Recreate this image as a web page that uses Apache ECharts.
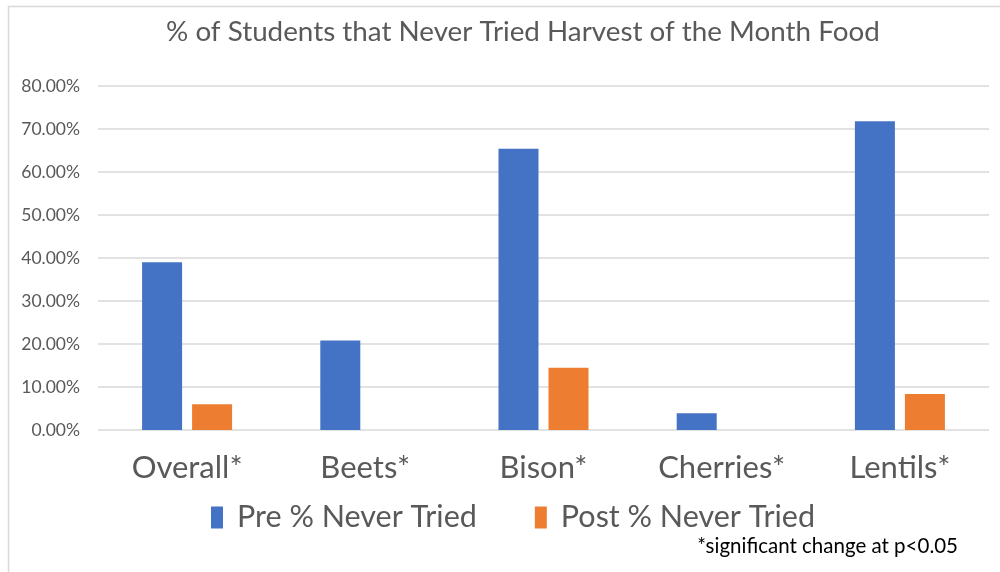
<!DOCTYPE html>
<html>
<head>
<meta charset="utf-8">
<script src="https://cdn.jsdelivr.net/npm/echarts@6/dist/echarts.min.js"></script>
<style>
  html, body { margin: 0; padding: 0; background: #fff; }
  #main { width: 1000px; height: 572px; }
</style>
</head>
<body>
<div id="main"></div>
<script>
var categories = ['Overall*', 'Beets*', 'Bison*', 'Cherries*', 'Lentils*'];
var preNeverTried = [39.0, 20.8, 65.4, 3.9, 71.8];
var postNeverTried = [6.0, 0, 14.5, 0, 8.4];
var seriesNames = ['Pre % Never Tried', 'Post % Never Tried'];

var myChart = echarts.init(document.getElementById('main'));

var font = 'Lato';

var option = {
    backgroundColor: '#ffffff',
    title: {
        text: '% of Students that Never Tried Harvest of the Month Food',
        left: 161,
        top: 13,
        textStyle: {
            fontFamily: font,
            fontSize: 27.8,
            fontWeight: 'normal',
            color: '#595959',
        },
    },
    grid: {
        left: 98,
        right: 11,
        top: 86,
        bottom: 142,
    },
    legend: {
        data: seriesNames,
        left: 206,
        top: 497,
        itemWidth: 12,
        itemHeight: 22,
        itemGap: 58,
        icon: 'rect',
        textStyle: {
            fontFamily: font,
            fontSize: 30.5,
            color: '#595959',
            padding: [0, 0, 0, 9],
        },
    },
    xAxis: {
        type: 'category',
        data: categories,
        axisTick: { show: false },
        axisLine: { show: false },
        axisLabel: {
            fontFamily: font,
            fontSize: 31,
            color: '#595959',
            margin: 22,
        },
    },
    yAxis: {
        type: 'value',
        min: 0,
        max: 80,
        interval: 10,
        axisLine: { show: false },
        axisTick: { show: false },
        axisLabel: {
            fontFamily: font,
            fontSize: 17.5,
            color: '#595959',
            margin: 18,
            formatter: function (v) { return v.toFixed(2) + '%'; },
        },
        splitLine: {
            lineStyle: { color: '#D9D9D9', width: 1.5 },
        },
    },
    series: [{
        name: seriesNames[0],
        type: 'bar',
        barWidth: 40,
        barGap: '25%',
        itemStyle: { color: '#4472C4' },
        data: preNeverTried,
    }, {
        name: seriesNames[1],
        type: 'bar',
        barWidth: 40,
        barGap: '25%',
        itemStyle: { color: '#ED7D31' },
        data: postNeverTried,
    }],
    graphic: [{
        type: 'text',
        right: 42,
        top: 536,
        style: {
            text: '*significant change at p<0.05',
            fontFamily: font,
            fontSize: 20.5,
            fill: '#000000',
        },
    }, {
        type: 'polyline',
        shape: { points: [[8.5, 572], [8.5, 6.5], [1000, 6.5]] },
        style: { stroke: '#D9D9D9', lineWidth: 1.5, fill: null },
        silent: true,
    }],
};
myChart.setOption(option);
</script>
</body>
</html>
